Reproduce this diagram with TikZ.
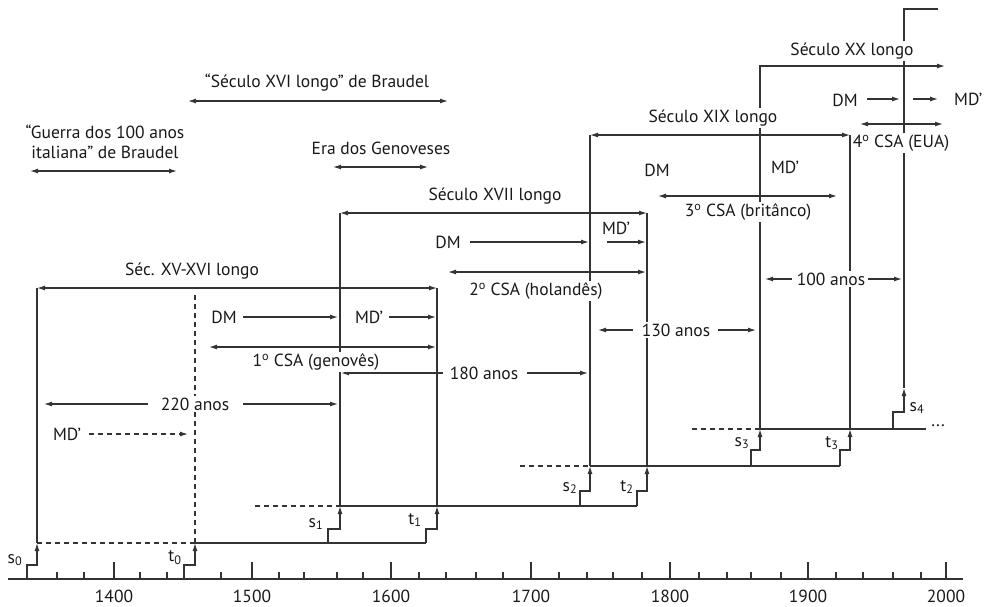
\documentclass[tikz,border=0pt]{standalone}
\usepackage{fontspec}
\setmainfont{PT Sans}
\usetikzlibrary{arrows.meta}
\begin{document}
\begin{tikzpicture}[x=1pt,y=-1pt,
  ln/.style={line width=1.2pt, draw=black!80},
  arr/.style={ln,-{Latex[length=8pt,width=5pt]}},
  darr/.style={ln,{Latex[length=8pt,width=5pt]}-{Latex[length=8pt,width=5pt]}},
  dsh/.style={ln,dash pattern=on 5pt off 4pt},
  lbl/.style={font=\fontsize{17.5}{20}\selectfont, inner sep=1.5pt, text=black!90},
  wl/.style={lbl, fill=white}]
\useasboundingbox (0,0) rectangle (989,606);

% axis
\draw[ln] (8,579) -- (963,579);
\foreach \xx/\yy in {114/1400,252/1500,391/1600,531/1700,670/1800,808/1900,946/2000}{
  \draw[ln] (\xx,579) -- (\xx,562);
  \node[lbl] (y\yy) at (\xx,596) {\yy};
}
\foreach \xx in {57,84,140,167,221,279,304,337,363,419,446,476,503,559,587,613,642,699,727,751,781,836,863,893,921}{
  \draw[ln] (\xx,579) -- (\xx,572);
}

% level lines
\draw[dsh] (37,543) -- (195,543);
\draw[ln] (195,543) -- (426,543);
\draw[dsh] (255,506) -- (340,506);
\draw[ln] (340,506) -- (637,506);
\draw[dsh] (520,466) -- (590,466);
\draw[ln] (590,466) -- (840,466);
\draw[dsh] (692,429) -- (760,429);
\draw[ln] (760,429) -- (926,429);

% steps
\draw[arr] (27,579) -- (27,565) -- (37,565) -- (37,543);
\draw[arr] (184,579) -- (184,565) -- (195,565) -- (195,543);
\draw[arr] (328,543) -- (328,529) -- (340,529) -- (340,506);
\draw[arr] (426,543) -- (426,529) -- (437,529) -- (437,506);
\draw[arr] (580,506) -- (580,491) -- (590,491) -- (590,466);
\draw[arr] (637,506) -- (637,491) -- (647,491) -- (647,466);
\draw[arr] (751,466) -- (751,450) -- (760,450) -- (760,429);
\draw[arr] (840,466) -- (840,450) -- (850,450) -- (850,429);
\draw[arr] (893,429) -- (893,412) -- (904,412) -- (904,388);

% verticals
\draw[ln] (37,543) -- (37,288);
\draw[dsh] (195,543) -- (195,292);
\draw[ln] (340,506) -- (340,213);
\draw[ln] (437,506) -- (437,288);
\draw[ln] (590,466) -- (590,135);
\draw[ln] (647,466) -- (647,213);
\draw[arr] (760,429) -- (760,66) -- (945,66);
\draw[ln] (850,429) -- (850,135);
\draw[ln] (904,388) -- (904,9) -- (938,9);

% period arrows
\draw[darr] (37,288) -- (437,288);
\draw[darr] (340,213) -- (647,213);
\draw[darr] (590,135) -- (850,135);

% top left
\draw[darr] (30,171) -- (177,171);
\draw[darr] (188,101) -- (448,101);
\draw[darr] (333,167) -- (428,167);

% level 1
\draw[arr] (243,317) -- (338,317);
\draw[arr] (389,317) -- (436,317);
\draw[darr] (209,347) -- (436,347);
\draw[arr] (148,404) -- (44,404);
\draw[arr] (243,404) -- (338,404);
\draw[arr, dash pattern=on 5pt off 4pt] (89,434) -- (188,434);
\draw[arr] (443,373) -- (341,373);
\draw[arr] (527,373) -- (588,373);

% level 2
\draw[arr] (470,242) -- (589,242);
\draw[arr] (607,242) -- (646,242);
\draw[darr] (448,272) -- (646,272);
\draw[arr] (633,330) -- (598,330);
\draw[arr] (718,330) -- (756,330);

% level 3
\draw[darr] (658,196) -- (837,196);
\draw[arr] (792,279) -- (765,279);
\draw[arr] (868,279) -- (902,279);

% level 4
\draw[arr] (867,99) -- (900,99);
\draw[arr] (913,99) -- (938,99);
\draw[darr] (860,124) -- (943,124);

% texts
\node[lbl, align=center] (guerra) at (105,142) {“Guerra dos 100 anos\\italiana” de Braudel};
\node[lbl] (xvib) at (317,83) {“Século XVI longo” de Braudel};
\node[lbl] (era) at (381,148) {Era dos Genoveses};
\node[wl] (xv) at (192,271) {Séc. XV-XVI longo};
\node[lbl] (dm1) at (224,317) {DM};
\node[lbl] (md1) at (369,317) {MD’};
\node[wl] (csa1) at (316,362) {1\textsuperscript{o} CSA (genovês)};
\node[wl] (a220) at (195,404) {220 anos};
\node[lbl] (md0) at (67,434) {MD’};
\node[wl] (a180) at (484,373) {180 anos};
\node[wl] (xvii) at (495,196) {Século XVII longo};
\node[lbl] (dm2) at (448,242) {DM};
\node[lbl] (md2) at (616,228) {MD’};
\node[wl] (csa2) at (536,291) {2\textsuperscript{o} CSA (holandês)};
\node[wl] (a130) at (676,330) {130 anos};
\node[wl] (xix) at (713,118) {Século XIX longo};
\node[lbl] (dm3) at (657,170) {DM};
\node[lbl] (md3) at (785,167) {MD’};
\node[wl] (csa3) at (748,212) {3\textsuperscript{o} CSA (britânco)};
\node[wl] (a100) at (831,279) {100 anos};
\node[wl] (xx) at (852,51) {Século XX longo};
\node[lbl] (dm4) at (845,100) {DM};
\node[lbl, anchor=west, inner sep=0pt] (md4) at (954,99) {MD’};
\node[wl] (csa4) at (901,143) {4\textsuperscript{o} CSA (EUA)};

\node[lbl] (s0) at (15,560) {s\textsubscript{0}};
\node[lbl] (t0) at (175,558) {t\textsubscript{0}};
\node[lbl] (s1) at (316,524) {s\textsubscript{1}};
\node[lbl] (t1) at (415,520) {t\textsubscript{1}};
\node[lbl] (s2) at (570,488) {s\textsubscript{2}};
\node[lbl] (t2) at (627,487) {t\textsubscript{2}};
\node[lbl] (s3) at (742,443) {s\textsubscript{3}};
\node[lbl] (t3) at (832,443) {t\textsubscript{3}};
\node[lbl] (s4) at (917,408) {s\textsubscript{4}};
\node[lbl] (dots) at (938,426) {...};
\end{tikzpicture}
\end{document}
